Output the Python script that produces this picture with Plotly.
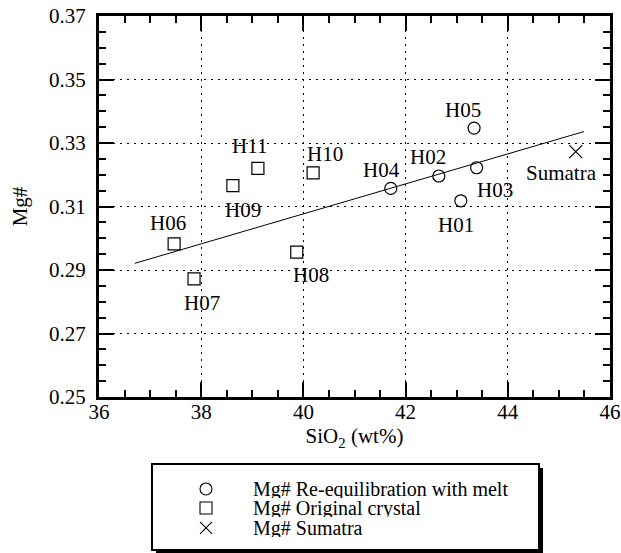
import plotly.graph_objects as go

# ---------------- data ----------------
melt_labels = ["H01", "H02", "H03", "H04", "H05"]
melt_sio2 = [43.08, 42.65, 43.39, 41.71, 43.34]
melt_mg = [0.3118, 0.3196, 0.3222, 0.3157, 0.3347]

crystal_labels = ["H06", "H07", "H08", "H09", "H10", "H11"]
crystal_sio2 = [37.47, 37.86, 39.87, 38.62, 40.19, 39.11]
crystal_mg = [0.2982, 0.2872, 0.2956, 0.3166, 0.3206, 0.3220]

sumatra_labels = ["Sumatra"]
sumatra_sio2 = [45.33]
sumatra_mg = [0.3273]

trend_sio2 = [36.70, 45.49]
trend_mg = [0.2921, 0.3336]

x_tick_vals = [36, 38, 40, 42, 44, 46]
y_tick_vals = [0.25, 0.27, 0.29, 0.31, 0.33, 0.35, 0.37]
y_tick_text = ["0.25", "0.27", "0.29", "0.31", "0.33", "0.35", "0.37"]

legend_names = ["Mg# Re-equilibration with melt", "Mg# Original crystal", "Mg# Sumatra"]

# ---------------- style ----------------
FONT = "Liberation Serif"
FS = 21

# label offsets in pixels (dx right, dy down)
label_offsets = {
    "H01": (-5, 24), "H02": (-11, -19), "H03": (18, 22), "H04": (-9, -18),
    "H05": (-11, -18), "H06": (-6, -21), "H07": (8, 24), "H08": (14, 23),
    "H09": (10, 24), "H10": (12, -19), "H11": (-8, -22), "Sumatra": (-14, 21),
}

fig = go.Figure()

fig.add_trace(go.Scatter(x=trend_sio2, y=trend_mg, mode="lines",
                         line=dict(color="black", width=1), showlegend=False,
                         hoverinfo="skip"))

marker_line = dict(color="black", width=1.2)
fig.add_trace(go.Scatter(x=melt_sio2, y=melt_mg, mode="markers", name=legend_names[0],
                         marker=dict(symbol="circle-open", size=12, color="black", line=marker_line),
                         showlegend=False))
fig.add_trace(go.Scatter(x=crystal_sio2, y=crystal_mg, mode="markers", name=legend_names[1],
                         marker=dict(symbol="square-open", size=12, color="black", line=marker_line),
                         showlegend=False))
fig.add_trace(go.Scatter(x=sumatra_sio2, y=sumatra_mg, mode="markers", name=legend_names[2],
                         marker=dict(symbol="x-thin-open", size=13, color="black", line=marker_line),
                         showlegend=False))

annotations = []
for labels, xs, ys in [(melt_labels, melt_sio2, melt_mg),
                       (crystal_labels, crystal_sio2, crystal_mg),
                       (sumatra_labels, sumatra_sio2, sumatra_mg)]:
    for lab, xv, yv in zip(labels, xs, ys):
        dx, dy = label_offsets[lab]
        annotations.append(dict(x=xv, y=yv, xref="x", yref="y", text=lab, showarrow=False,
                                xshift=dx, yshift=-dy, xanchor="center", yanchor="middle",
                                font=dict(family=FONT, size=FS, color="black")))

# ---- manual legend (box + symbols + text) ----
leg_sym_x = 0.2094
leg_text_x = 0.2994
leg_rows_y = [0.1192, 0.0838, 0.0466]
leg_symbols = ["circle-open", "square-open", "x-thin-open"]
for sym, yy in zip(leg_symbols, leg_rows_y):
    fig.add_trace(go.Scatter(x=[leg_sym_x], y=[yy], xaxis="x2", yaxis="y2", mode="markers",
                             marker=dict(symbol=sym, size=12, color="black",
                                         line=dict(color="black", width=1.1)),
                             showlegend=False, hoverinfo="skip", cliponaxis=False))
for name, yy in zip(legend_names, leg_rows_y):
    annotations.append(dict(x=leg_text_x, y=yy, xref="paper", yref="paper", text=name,
                            showarrow=False, xanchor="left", yanchor="middle", height=18,
                            borderpad=0, valign="middle",
                            font=dict(family=FONT, size=20, color="black")))

shapes = [
    dict(type="rect", xref="paper", yref="paper", x0=0.1115, x1=0.8689, y0=0.0, y1=0.1583,
         fillcolor="black", line=dict(width=0), layer="below"),
    dict(type="rect", xref="paper", yref="paper", x0=0.1037, x1=0.8611, y0=0.00559, y1=0.1657,
         fillcolor="white", line=dict(color="black", width=2), layer="below"),
]

axis_common = dict(
    showline=True, linecolor="black", linewidth=3, mirror="allticks",
    ticks="inside", ticklen=15, tickwidth=2, tickcolor="black",
    showgrid=True, gridcolor="black", gridwidth=1, griddash="2px,5px",
    zeroline=False, tickfont=dict(family=FONT, size=FS, color="black"),
    ticklabeloverflow="allow", automargin=False,
)

fig.update_layout(
    width=621, height=553,
    margin=dict(l=99, r=11, t=16, b=0, autoexpand=False),
    paper_bgcolor="white", plot_bgcolor="white",
    font=dict(family=FONT, size=FS, color="black"),
    xaxis=dict(range=[36, 46], tickvals=x_tick_vals,
               minor=dict(dtick=0.5, tick0=36, ticks="inside", ticklen=7, tickwidth=1.5,
                          tickcolor="black", showgrid=False),
               title=dict(text="SiO<sub>2</sub> (wt%)", font=dict(family=FONT, size=FS), standoff=0),
               ticklabelstandoff=-6, anchor="y", **axis_common),
    yaxis=dict(range=[0.25, 0.37], domain=[0.2905, 1], tickvals=y_tick_vals, ticktext=y_tick_text,
               minor=dict(dtick=0.005, tick0=0.25, ticks="inside", ticklen=7, tickwidth=1.5,
                          tickcolor="black", showgrid=False),
               title=dict(text="Mg#", font=dict(family=FONT, size=FS), standoff=16),
               ticklabelstandoff=6, anchor="x", **axis_common),
    xaxis2=dict(domain=[0, 1], range=[0, 1], visible=False, anchor="y2", fixedrange=True),
    yaxis2=dict(domain=[0, 0.2], range=[0, 0.2], visible=False, anchor="x2", fixedrange=True),
    annotations=annotations,
    shapes=shapes,
)

fig.write_html("out.html", config={"displayModeBar": False},
               post_script="document.body.style.margin='0px';document.body.style.overflow='hidden';")
